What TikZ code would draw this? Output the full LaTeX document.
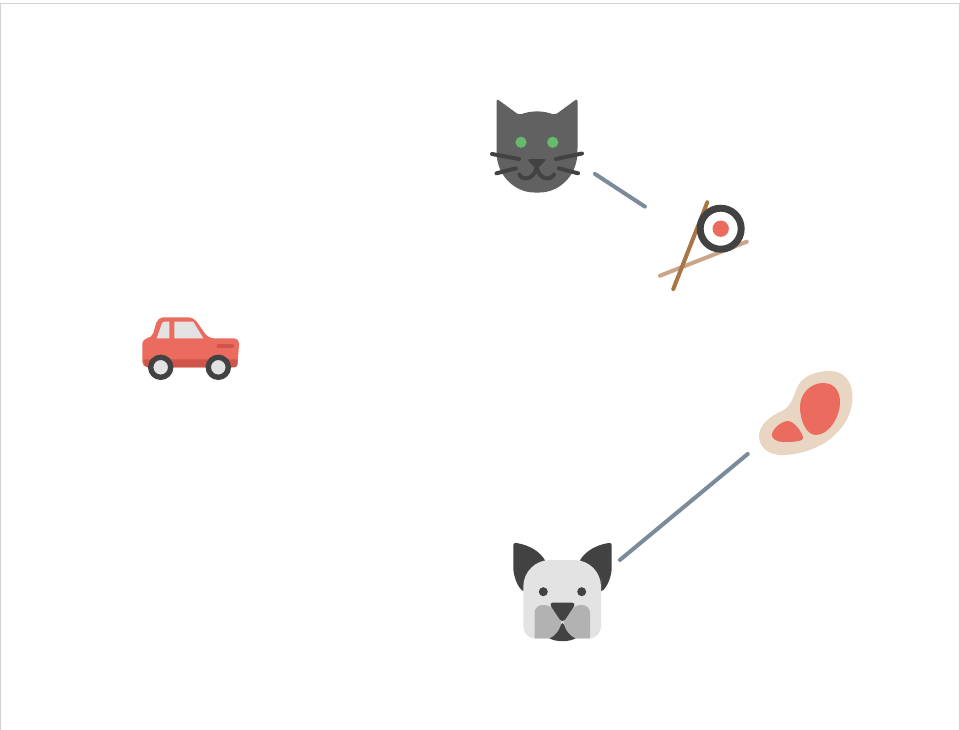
\documentclass[tikz,border=0pt]{standalone}
\usetikzlibrary{calc}
\definecolor{Frame}{HTML}{D2D2D2}
\definecolor{Wire}{HTML}{7B8B9B}
\definecolor{Fur}{HTML}{616161}
\definecolor{Ink}{HTML}{424242}
\definecolor{Pale}{HTML}{E3E3E3}
\definecolor{Jowl}{HTML}{B2B2B2}
\definecolor{Iris}{HTML}{66BB6A}
\definecolor{Tomato}{HTML}{EB6C5F}
\definecolor{Brick}{HTML}{CF5449}
\definecolor{Fat}{HTML}{E8D6C2}
\definecolor{StickA}{HTML}{A87543}
\definecolor{StickB}{HTML}{C9A68A}
\tikzset{spot/.style={circle,inner sep=0pt,minimum size=#1},
  wire/.style={line width=3pt,draw=Wire,line cap=round},
  whisker/.style={line width=3pt,draw=Ink,line cap=round},
  stick/.style={line width=3pt,line cap=round}}
\begin{document}
\begin{tikzpicture}[x=0.75pt,y=-0.75pt]
  \useasboundingbox (0,0) rectangle (960,729);
  \fill[white] (0,0) rectangle (960,729);
  \draw[Frame,line width=0.9pt] (0.6,740) -- (0.6,3.5) -- (959.4,3.5) -- (959.4,740);

  % hidden spots the wires run between
  \node[spot=103.5pt] (cat) at (537,136) {};
  \node[spot=102pt] (sushi) at (702,244) {};
  \node[spot=112.5pt] (dog) at (562,608) {};
  \node[spot=117pt] (meat) at (808,404) {};
  \draw[wire] (cat)--(sushi);
  \draw[wire] (dog)--(meat);

  % cat
  \fill[Fur,rounded corners=2pt] (496.5,98.5) -- (519,115) .. controls (531,110.5) and (543,110.5) .. (555,115)
    -- (577.5,98.5) -- (577.5,150) .. controls (577,177) and (558,192.5) .. (537,192.5)
    .. controls (516,192.5) and (497,177) .. (496.5,150) -- cycle;
  \fill[Iris] (521,142.3) circle (5.6) (552.7,142.3) circle (5.6);
  \draw[whisker] (492,154)--(519,159);
  \draw[whisker] (496.5,173.3)--(516,168.3);
  \draw[whisker] (582,153.5)--(556,159);
  \draw[whisker] (578,173.3)--(558.7,168.3);
  \fill[Ink,rounded corners=2pt] (527,159)--(546.5,159)--(536.7,170)--cycle;
  \draw[whisker] (519.5,174.5) .. controls (522,180.5) and (533,180.5) .. (536.7,168)
    .. controls (540,180.5) and (551,180.5) .. (554,174.5);

  % sushi
  \draw[stick,StickB] (746.7,241.7)--(660,275.7);
  \draw[stick,StickA] (707.3,202.3)--(673.3,289);
  \draw[Ink,fill=white,line width=5.2pt] (720.7,228.7) circle (20.5);
  \fill[Tomato] (720.7,228.7) circle (8.2);

  % car
  \fill[Tomato,rounded corners=4pt] (142.3,367.3) -- (142.3,338.3) -- (151.7,338.3) -- (158,317.3)
    -- (193.5,317.3) -- (208.5,338.3) -- (239.5,338.3) -- (237.3,367.3) -- cycle;
  \fill[Brick,rounded corners=2pt] (142.3,359.3) -- (237.9,359.3) -- (237.3,367.3) -- (146,367.3) -- cycle;
  \fill[Pale] (169.3,321.7) -- (169.3,338.3) -- (156.7,338.3) -- (162,323) -- (164,321.7) -- cycle;
  \fill[Pale] (174.3,321.7) -- (193.3,321.7) -- (203.3,338.3) -- (174.3,338.3) -- cycle;
  \draw[Brick,line width=3pt,line cap=round] (218.5,346)--(232,346);
  \foreach \wx in {160.7,218.3}{
    \draw[Ink,fill=Pale,line width=4pt] (\wx,367.3) circle (10);
  }

  % steak
  \fill[Fat] (830,371) .. controls (845,371) and (853,383) .. (852.5,398)
    .. controls (852,418) and (840,432) .. (826,442) .. controls (812,451) and (795,455) .. (782,455)
    .. controls (768,455) and (759,447) .. (759,436) .. controls (759,425) and (770,416) .. (782,411)
    .. controls (792,406) and (793,396) .. (798,386) .. controls (803,376) and (816,371) .. (830,371) -- cycle;
  \fill[Tomato] (823,383) .. controls (835,383) and (840,392) .. (840,402)
    .. controls (840,418) and (828,435) .. (816,435) .. controls (806,435) and (800,420) .. (800,407)
    .. controls (800,393) and (811,383) .. (823,383) -- cycle;
  \fill[Tomato] (788,421) .. controls (794,421) and (803,433) .. (803,438)
    .. controls (803,442) and (790,442) .. (783,442) .. controls (776,442) and (771,438) .. (772,434)
    .. controls (773,428) and (782,421) .. (788,421) -- cycle;

  % dog
  \fill[Ink,rounded corners=2pt] (513.3,542.5) .. controls (530,545) and (540,552) .. (546,562)
    -- (524,592) .. controls (517,586) and (513.3,575) .. (513.3,565) -- cycle;
  \fill[Ink,rounded corners=2pt] (611.7,542.5) .. controls (595,545) and (585,552) .. (579,562)
    -- (601,592) .. controls (608,586) and (611.7,575) .. (611.7,565) -- cycle;
  \fill[Pale] (523.3,605) {[rounded corners=20pt] -- (523.3,560) -- (601,560) -- (601,605)}
    {[rounded corners=9pt] -- (601,638.5) -- (523.3,638.5) -- (523.3,605)} -- cycle;
  \fill[Ink] (549,638) .. controls (552,640) and (557,641.2) .. (562.5,641.2)
    .. controls (568,641.2) and (573,640) .. (576,638) -- (562.5,623) -- cycle;
  \fill[Jowl] (534.5,638.3) {[rounded corners=6pt] -- (534.5,605) -- (552,605)} -- (561.5,622)
    .. controls (560,630) and (555,636) .. (549.5,638.3) -- cycle;
  \fill[Jowl] (590,638.3) {[rounded corners=6pt] -- (590,605) -- (573,605)} -- (563.5,622)
    .. controls (565,630) and (570,636) .. (575.5,638.3) -- cycle;
  \fill[Ink,rounded corners=3.5pt] (548.5,602.5) -- (576.5,602.5) -- (562.5,623.5) -- cycle;
  \fill[Ink] (543.3,591.7) circle (4.5) (581.7,591.7) circle (4.5);
\end{tikzpicture}
\end{document}
